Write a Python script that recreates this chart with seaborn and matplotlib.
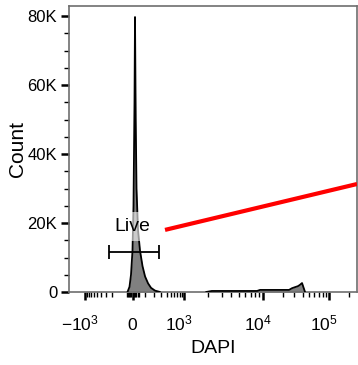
import numpy as np
import pandas as pd
import matplotlib
matplotlib.use("Agg")
import matplotlib.pyplot as plt
import seaborn as sns
from matplotlib.transforms import ScaledTranslation

# --- style ---
sns.set_style("ticks")
plt.rcParams['font.family'] = ['Liberation Sans', 'DejaVu Sans']
plt.rcParams['mathtext.fontset'] = 'custom'
plt.rcParams['mathtext.rm'] = 'Liberation Sans'
plt.rcParams['mathtext.it'] = 'Liberation Sans:italic'
plt.rcParams['mathtext.bf'] = 'Liberation Sans:bold'
plt.rcParams['text.color'] = 'black'
plt.rcParams['axes.labelcolor'] = 'black'
plt.rcParams['xtick.color'] = 'black'
plt.rcParams['ytick.color'] = 'black'

# --- data ---
# main (live) peak near zero
live_dapi = [-41.5, -24.7, -12.3, 0, 7.5, 15.1, 18.9, 24.2, 30.3, 41.9,
             57.8, 78.5, 100.8, 129.3, 160.4, 207.5, 279.6]
live_count = [0, 1500, 5000, 12000, 25000, 55000, 79700, 50000, 30000, 18000,
              12000, 7500, 4500, 2500, 1200, 400, 0]
# dim / dead population
dead_dapi = [1900, 2250, 8470, 9240, 24950, 27700, 30700, 34100, 36600, 39200, 43500]
dead_count = [0, 300, 300, 600, 600, 1100, 1400, 1700, 2100, 2600, 0]

# "Live" gate
gate_left, gate_right, gate_y = -245, 268, 11700
gate_name = "Live"
gate_label_y = 19000

# red marker line
red_x = [368, 262144]
red_y = [18000, 31300]

# axis ticks
x_major = [-1000, 0, 1000, 10000, 100000]
x_major_labels = [r'$-10^3$', '0', r'$10^3$', r'$10^4$', r'$10^5$']
y_major = [0, 20000, 40000, 60000, 80000]
y_major_labels = ['0', '20K', '40K', '60K', '80K']

# --- biexponential-like display scale ---
W = 150.0
ANCHOR_DAPI = np.array([-1700, -1000, 0, 1000, 10000, 100000, 262144], dtype=float)
ANCHOR_POS = np.array([0, 16, 63.5, 115.3, 193.7, 260, 288], dtype=float)
S_ANCH = np.arcsinh(ANCHOR_DAPI / W)
SLOPE_LO = (ANCHOR_POS[1] - ANCHOR_POS[0]) / (S_ANCH[1] - S_ANCH[0])
SLOPE_HI = (ANCHOR_POS[-1] - ANCHOR_POS[-2]) / (S_ANCH[-1] - S_ANCH[-2])


def biex_fwd(x):
    x = np.asarray(x, dtype=float)
    s = np.arcsinh(x / W)
    out = np.interp(s, S_ANCH, ANCHOR_POS)
    out = np.where(s < S_ANCH[0], ANCHOR_POS[0] + (s - S_ANCH[0]) * SLOPE_LO, out)
    out = np.where(s > S_ANCH[-1], ANCHOR_POS[-1] + (s - S_ANCH[-1]) * SLOPE_HI, out)
    return out


def biex_inv(p):
    p = np.asarray(p, dtype=float)
    s = np.interp(p, ANCHOR_POS, S_ANCH)
    s = np.where(p < ANCHOR_POS[0], S_ANCH[0] + (p - ANCHOR_POS[0]) / SLOPE_LO, s)
    s = np.where(p > ANCHOR_POS[-1], S_ANCH[-1] + (p - ANCHOR_POS[-1]) / SLOPE_HI, s)
    return W * np.sinh(s)


# minor ticks
x_minor = [-m * 100 for m in range(2, 10)] + [-m * 10 for m in range(1, 6)] + \
          [m * 10 for m in range(1, 6)] + [m * 100 for m in range(1, 10)] + \
          [m * 1000 for m in range(2, 10)] + [m * 10000 for m in range(2, 10)] + [200000]
y_minor = [v for v in range(5000, 85000, 5000) if v % 20000]

# --- figure ---
fig = plt.figure(figsize=(3.58, 3.65), dpi=100)
ax = fig.add_axes([69 / 358, 73 / 365, 288 / 358, 286 / 365])
ax.set_xscale('function', functions=(biex_fwd, biex_inv))

hist = pd.DataFrame({
    "dapi": live_dapi + dead_dapi,
    "count": live_count + dead_count,
    "pop": ["live"] * len(live_dapi) + ["dead"] * len(dead_dapi),
})
for pop, grp in hist.groupby("pop"):
    ax.fill_between(grp["dapi"], 0, grp["count"], color="#808080", lw=0, zorder=2)
sns.lineplot(data=hist, x="dapi", y="count", units="pop", estimator=None,
             sort=False, color="black", lw=1.3, ax=ax, zorder=3)

# gate
ax.errorbar(x=0, y=gate_y, xerr=[[0 - gate_left], [gate_right - 0]], fmt='none',
            ecolor='black', elinewidth=1.3, capsize=5, capthick=1.3, zorder=5)
ax.text(0, gate_label_y, gate_name, ha='center', va='center', fontsize=14,
        zorder=6, bbox=dict(boxstyle='square,pad=0.3', fc='white', ec='none', alpha=0.6))

# red line
ax.plot(red_x, red_y, color='red', lw=3, solid_capstyle='butt', zorder=7)

ax.set_xlim(ANCHOR_DAPI[0], ANCHOR_DAPI[-1])
ax.set_ylim(0, 82900)

ax.set_xticks(x_major)
ax.set_xticklabels(x_major_labels)
ax.set_xticks(x_minor, minor=True)
ax.set_yticks(y_major)
ax.set_yticklabels(y_major_labels)
ax.set_yticks(y_minor, minor=True)

ax.tick_params(axis='both', which='major', direction='out', color='black',
               width=1.8, length=5.5, labelsize=12)
ax.tick_params(axis='both', which='minor', direction='out', color='black',
               width=1.0, length=3.5)
ax.tick_params(axis='x', which='major', pad=22, labelsize=12.5)
ax.tick_params(axis='y', which='major', pad=3)

shift = ScaledTranslation(-5 / 100, 0, fig.dpi_scale_trans)
for lbl in ax.get_xticklabels():
    lbl.set_va('baseline')
    if '^' in lbl.get_text():
        lbl.set_transform(lbl.get_transform() + shift)

for s in ax.spines.values():
    s.set_color('#6e6e6e')
    s.set_linewidth(1.2)

ax.set_xlabel("DAPI", fontsize=14)
ax.set_ylabel("Count", fontsize=15)
ax.xaxis.set_label_coords(0.5, -0.168)
ax.yaxis.set_label_coords(-0.145, 0.5)

fig.savefig("out.png", dpi=100)
